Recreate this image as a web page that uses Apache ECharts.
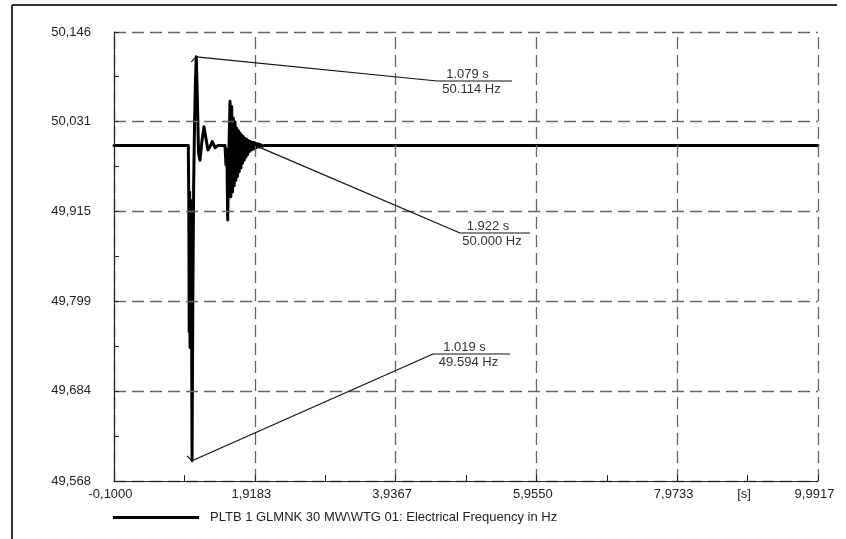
<!DOCTYPE html>
<html><head><meta charset="utf-8">
<script src="https://cdn.jsdelivr.net/npm/echarts@6/dist/echarts.min.js"></script>
<style>html,body{margin:0;padding:0;background:#fff}#c{width:846px;height:539px}</style>
</head><body><div id="c"></div>
<script>
const seriesName = 'PLTB 1 GLMNK 30 MW\\WTG 01: Electrical Frequency in Hz';

const timeS = [
  -0.1, 0.965, 0.972, 0.978, 0.984, 0.990, 0.996, 1.002, 1.008, 1.013, 1.019, 1.030, 1.042, 1.055, 1.067, 1.079,
  1.095, 1.112, 1.133, 1.160, 1.190, 1.220, 1.247, 1.280, 1.309, 1.330, 1.348, 1.370, 1.391,
  1.491, 1.505, 1.518, 1.530, 1.546, 1.563,
  1.575, 1.587, 1.599, 1.611, 1.623, 1.635, 1.647, 1.659, 1.671, 1.683, 1.695, 1.707, 1.719,
  1.731, 1.743, 1.755, 1.767, 1.779, 1.791, 1.803, 1.815, 1.827, 1.839, 1.851, 1.863, 1.875,
  1.887, 1.899, 1.911, 1.923, 1.935, 1.947, 1.959, 1.971, 1.983, 1.995, 2.007, 2.019, 2.031,
  2.043, 2.060, 9.9917
];
const freqHz = [
  50.000, 50.000, 49.930, 49.760, 49.940, 49.740, 49.930, 49.750, 49.900, 49.740, 49.594, 49.800, 49.950, 50.030, 50.080, 50.114,
  50.060, 49.990, 49.981, 50.005, 50.024, 50.008, 49.994, 49.999, 50.005, 50.001, 49.997, 49.999, 50.000,
  50.000, 49.975, 49.995, 49.904, 49.990, 50.057,
  49.934, 50.050, 49.940, 50.035, 49.948, 50.030, 49.955, 50.022, 49.960, 50.019, 49.966, 50.016, 49.971,
  50.013, 49.977, 50.011, 49.981, 50.009, 49.985, 50.008, 49.988, 50.006, 49.992, 50.005, 49.994, 50.004,
  49.995, 50.004, 49.996, 50.003, 49.997, 50.002, 49.998, 50.002, 49.998, 50.001, 49.999, 50.001, 49.999,
  50.001, 50.000, 50.000
];

const xMajorTicks = [-0.1, 1.9183, 3.9367, 5.955, 7.9733, 9.9917];
const xMinorTicks = [0.90915, 2.9275, 4.94585, 6.96415, 8.9825];
const xUnitLabelAt = 8.9825;
const xUnitLabel = '[s]';
const yMajorTicks = [49.568, 49.684, 49.799, 49.915, 50.031, 50.146];
const yMinorTicks = [49.626, 49.7415, 49.857, 49.973, 50.0885];

const cursorTimes = [1.079, 1.922, 1.019];
const cursorFreqs = [50.114, 50.000, 49.594];

const FONT = '"Liberation Sans", Arial, sans-serif';
const TXT = '#222';
const tickStyle = { color: '#222', width: 1 };
const xTickValues = xMajorTicks.concat(xMinorTicks).sort((a, b) => a - b);
const yTickValues = yMajorTicks.concat(yMinorTicks).sort((a, b) => a - b);

const chart = echarts.init(document.getElementById('c'), null, { renderer: 'canvas' });
const option = {
  animation: false,
  backgroundColor: '#fff',
  grid: { left: 114, right: 28, top: 32, bottom: 58, containLabel: false },
  legend: {
    data: [seriesName], left: 113, top: 511, padding: 0, icon: 'rect',
    itemWidth: 86, itemHeight: 3,
    textStyle: { fontFamily: FONT, fontSize: 13, color: TXT, padding: [0, 0, 0, 6] }
  },
  xAxis: {
    type: 'value', min: -0.1, max: 9.9917, position: 'bottom', z: 5,
    axisLine: { show: true, onZero: false, lineStyle: { color: '#222', width: 1.2 } },
    axisTick: { show: true, inside: true, length: 6, customValues: xTickValues, lineStyle: tickStyle },
    axisLabel: {
      customValues: xMajorTicks.concat([xUnitLabelAt]), margin: 7, fontFamily: FONT, fontSize: 13, color: TXT,
      padding: [0, 7, 0, 0],
      formatter: v => Math.abs(v - xUnitLabelAt) < 1e-6 ? xUnitLabel : Number(v).toFixed(4).replace('.', ',')
    },
    splitLine: { show: false }
  },
  yAxis: {
    type: 'value', min: 49.568, max: 50.146, position: 'left', z: 5,
    axisLine: { show: true, onZero: false, lineStyle: { color: '#222', width: 1.2 } },
    axisTick: { show: true, inside: true, length: 5, customValues: yTickValues, lineStyle: tickStyle },
    axisLabel: {
      customValues: yMajorTicks, margin: 23, fontFamily: FONT, fontSize: 13, color: TXT,
      formatter: v => Number(v).toFixed(3).replace('.', ',')
    },
    splitLine: { show: false }
  },
  series: [
    {
      name: 'grid', type: 'line', data: [], z: 1, silent: true,
      markLine: {
        silent: true, symbol: 'none', animation: false, precision: 4,
        label: { show: false },
        lineStyle: { type: [12, 6], color: '#666', width: 1.3 },
        data: xMajorTicks.map(v => ({ xAxis: v })).concat(yMajorTicks.map(v => ({ yAxis: v })))
      }
    },
    {
      name: seriesName, type: 'line', z: 3,
      data: timeS.map((t, i) => [t, freqHz[i]]),
      showSymbol: false, symbol: 'none',
      lineStyle: { color: '#000', width: 3, join: 'round', cap: 'round' },
      itemStyle: { color: '#000' }
    }
  ]
};
chart.setOption(option);

const g = [];
g.push({ type: 'line', shape: { x1: 12, y1: 5, x2: 837, y2: 5 }, style: { stroke: '#333', lineWidth: 2 } });
g.push({ type: 'line', shape: { x1: 12, y1: 5, x2: 12, y2: 539 }, style: { stroke: '#333', lineWidth: 2 } });
const labelBoxes = [
  { x: 437, y: 81, w: 75, mark: -1 },
  { x: 460, y: 233, w: 70, mark: 0 },
  { x: 433, y: 354, w: 77, mark: 1 }
];
cursorTimes.forEach((t, i) => {
  const f = cursorFreqs[i];
  const p = chart.convertToPixel({ xAxisIndex: 0, yAxisIndex: 0 }, [t, f]);
  const b = labelBoxes[i];
  const ls = { stroke: '#111', lineWidth: 1.2 };
  g.push({ type: 'line', z: 100, shape: { x1: p[0], y1: p[1], x2: b.x, y2: b.y }, style: ls });
  g.push({ type: 'line', z: 100, shape: { x1: b.x, y1: b.y, x2: b.x + b.w, y2: b.y }, style: ls });
  if (b.mark !== 0) {
    g.push({ type: 'line', z: 100, shape: { x1: p[0] - 5, y1: p[1] - 5 * b.mark, x2: p[0], y2: p[1] }, style: ls });
  }
  g.push({ type: 'text', z: 100, x: b.x + b.w / 2 - 7, y: b.y - 6.5,
    style: { text: t.toFixed(3) + ' s', font: '13px ' + FONT, fill: '#333', align: 'center', verticalAlign: 'middle' } });
  g.push({ type: 'text', z: 100, x: b.x + b.w / 2 - 3, y: b.y + 8.5,
    style: { text: f.toFixed(3) + ' Hz', font: '13px ' + FONT, fill: '#333', align: 'center', verticalAlign: 'middle' } });
});
chart.setOption({ graphic: g });
</script>
</body></html>
